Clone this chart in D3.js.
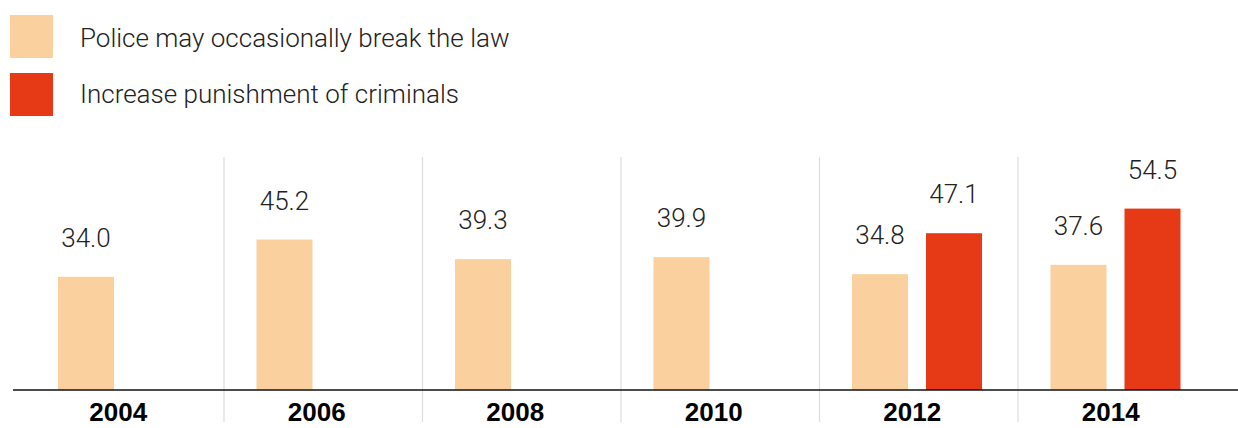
<!DOCTYPE html>
<html>
<head>
<meta charset="utf-8">
<script src="https://cdn.jsdelivr.net/npm/d3@7"></script>
<style>
  body { margin: 0; background: #fff; }
  text { font-family: "Liberation Sans", Arial, sans-serif; }
  .light { font-family: Roboto, "Liberation Sans", Arial, sans-serif; font-weight: 300; }
</style>
</head>
<body>
<svg id="chart" width="1238" height="428"></svg>
<script>
const years = ['2004', '2006', '2008', '2010', '2012', '2014'];
const police = [34.0, 45.2, 39.3, 39.9, 34.8, 37.6];
const punishment = [null, null, null, null, 47.1, 54.5];
const seriesNames = ['Police may occasionally break the law', 'Increase punishment of criminals'];
const seriesColors = ['#fad09e', '#e63916'];

const svg = d3.select('#chart');
const width = +svg.attr('width');

const baseY = 390;

const xScale = d3.scaleBand()
  .domain(years)
  .range([26, 1217]);

const subScale = d3.scaleBand()
  .domain([0, 1])
  .range([32, 162])
  .paddingInner(0.243);

const yScale = d3.scaleLinear()
  .domain([0, 70])
  .range([baseY, 157]);

// legend
const legend = svg.append('g');
seriesNames.forEach((name, i) => {
  legend.append('rect')
    .attr('x', 10)
    .attr('y', 15 + i * 58)
    .attr('width', 43)
    .attr('height', 43)
    .attr('fill', seriesColors[i]);
  legend.append('text')
    .attr('class', 'light')
    .attr('x', 80)
    .attr('y', 47 + i * 56)
    .attr('font-size', 26)
    .attr('fill', '#222')
    .text(name);
});

// vertical separators between years
svg.selectAll('.sep').data(years.slice(1))
  .enter().append('line')
    .attr('class', 'sep')
    .attr('x1', d => xScale(d) - 0.5)
    .attr('x2', d => xScale(d) - 0.5)
    .attr('y1', 157)
    .attr('y2', 422)
    .attr('stroke', '#dddddd')
    .attr('stroke-width', 1.2);

const rows = [];
years.forEach((yr, i) => {
  [police[i], punishment[i]].forEach((v, s) => {
    if (v != null) rows.push({ year: yr, s: s, value: v });
  });
});

const g = svg.append('g');

g.selectAll('.bar').data(rows)
  .enter().append('rect')
    .attr('class', 'bar')
    .attr('x', d => xScale(d.year) + subScale(d.s))
    .attr('y', d => yScale(d.value))
    .attr('width', subScale.bandwidth())
    .attr('height', d => baseY - yScale(d.value))
    .attr('fill', d => seriesColors[d.s]);

g.selectAll('.val').data(rows)
  .enter().append('text')
    .attr('class', 'val light')
    .attr('x', d => xScale(d.year) + subScale(d.s) + subScale.bandwidth() / 2)
    .attr('y', d => yScale(d.value) - 30)
    .attr('text-anchor', 'middle')
    .attr('font-size', 26)
    .attr('fill', '#222')
    .text(d => d3.format('.1f')(d.value));

// baseline
svg.append('line')
  .attr('x1', 13)
  .attr('x2', width)
  .attr('y1', baseY)
  .attr('y2', baseY)
  .attr('stroke', '#111')
  .attr('stroke-width', 1.5);

svg.selectAll('.year').data(years)
  .enter().append('text')
    .attr('class', 'year')
    .attr('x', d => xScale(d) + xScale.bandwidth() / 2 - 7)
    .attr('y', 421)
    .attr('text-anchor', 'middle')
    .attr('font-size', 26)
    .attr('font-weight', 'bold')
    .attr('fill', '#000')
    .text(d => d);
</script>
</body>
</html>
